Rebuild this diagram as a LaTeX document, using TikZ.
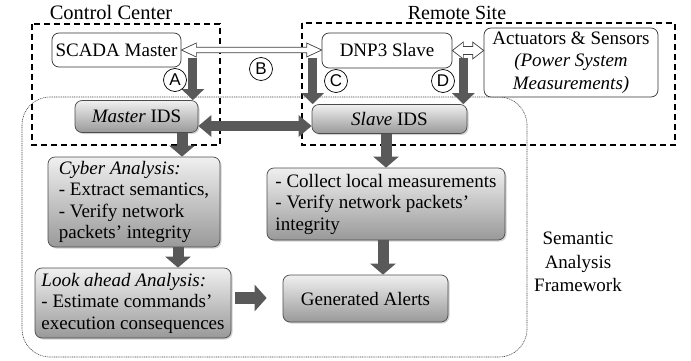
\documentclass[tikz,border=0pt]{standalone}
\usepackage{fontspec}
\setmainfont{Liberation Serif}
\newfontfamily\circfont{Liberation Sans}
\usetikzlibrary{arrows.meta,shadows,calc}
\newcommand\hollowarrow[5]{%
  \draw[hollow] let \p1=(#1), \p2=(#2) in
  (\x1,\y1) -- (\x1+#3,\y1+#4) -- (\x1+#3,\y1+#5) -- (\x2-#3,\y1+#5) -- (\x2-#3,\y1+#4) -- (\x2,\y1)
  -- (\x2-#3,\y1-#4) -- (\x2-#3,\y1-#5) -- (\x1+#3,\y1-#5) -- (\x1+#3,\y1-#4) -- cycle;}
\begin{document}
\begin{tikzpicture}[x=1pt,y=-1pt,
  font=\rmfamily\fontsize{19}{21.5}\selectfont,
  wbox/.style={draw=black!80, rounded corners=7pt, fill=white, line width=0.7pt, inner sep=2pt},
  gbox/.style={draw=black!70, rounded corners=7pt, top color=black!6, bottom color=black!40, line width=0.7pt, inner sep=2pt,
    drop shadow={shadow xshift=1.5pt,shadow yshift=-1.5pt,opacity=0.35}},
  region/.style={draw=black, line width=1.4pt, dash pattern=on 6pt off 4pt},
  frame/.style={draw=black!75, line width=0.6pt, dash pattern=on 1pt off 0.8pt, rounded corners=28pt},
  tarrow/.style={draw=black!65, line width=9pt, -{Triangle[length=11pt,width=22pt]}},
  hollow/.style={draw=black!75, fill=white, line width=0.7pt, line join=miter},
  circ/.style={circle, draw=black, fill=white, line width=0.7pt, minimum size=23pt, inner sep=0pt,
    font=\circfont\fontsize{17}{17}\selectfont},
  lbl/.style={inner sep=0pt}
]
\useasboundingbox (0,0) rectangle (691,361);

% framework and regions
\draw[frame] (22,97) rectangle (527,357);
\draw[region] (32,24) rectangle (220,145);
\draw[region] (302,23) rectangle (675,145);

\node[lbl, font=\rmfamily\fontsize{20.5}{24}\selectfont] (cc) at (111,12) {Control Center};
\node[lbl, font=\rmfamily\fontsize{20}{24}\selectfont] (rs) at (457,13) {Remote Site};

% nodes
\node[wbox, minimum width=129pt, minimum height=34pt] (scada) at (116.5,50) {SCADA Master};
\node[wbox, minimum width=130pt, minimum height=35pt] (dnp) at (387,50.5) {DNP3 Slave};
\node[wbox, minimum width=174pt, minimum height=69pt, align=center,
  font=\rmfamily\fontsize{19}{22.5}\selectfont] (act) at (571,62.5)
  {Actuators \& Sensors\\\textit{(Power System}\\\textit{Measurements)}};

\node[gbox, minimum width=123pt, minimum height=32pt] (mids) at (136.5,116.5) {\textit{Master} IDS};
\node[gbox, minimum width=155pt, minimum height=29pt] (sids) at (389.5,119) {\textit{Slave} IDS};
\node[gbox, minimum width=172pt, minimum height=90pt, align=left] (cyber) at (134,202)
  {\textit{Cyber Analysis:}\\- Extract semantics,\\- Verify network\\packets' integrity};
\node[gbox, minimum width=238pt, minimum height=72pt, align=left] (collect) at (386,204)
  {- Collect local measurements\\- Verify network packets'\\integrity};
\node[gbox, minimum width=196pt, minimum height=70pt, align=left] (look) at (133,303)
  {\textit{Look ahead Analysis:}\\- Estimate commands'\\execution consequences};
\node[gbox, minimum width=165pt, minimum height=47pt] (alerts) at (365.5,298.5) {Generated Alerts};

\node[lbl, align=center, font=\rmfamily\fontsize{19}{23.5}\selectfont] (saf) at (578,262) {Semantic\\Analysis\\Framework};

% hollow arrows
\hollowarrow{scada.east}{dnp.west}{15pt}{7pt}{2.8pt}
\hollowarrow{dnp.east}{act.west |- dnp.east}{11pt}{8.5pt}{4pt}

% thick arrows
\coordinate (a1) at ($(scada.east)+(11.5,8)$);
\draw[tarrow] (a1) -- (a1 |- mids.north);
\coordinate (c1) at ($(dnp.west)+(-9,7.5)$);
\draw[tarrow] (c1) -- (c1 |- sids.north);
\coordinate (d1) at ($(dnp.east)+(11,7.5)$);
\draw[tarrow] (d1) -- (d1 |- sids.north);

\coordinate (m1) at ($(mids.east)+(0,9.5)$);
\draw[tarrow, line width=10pt, {Triangle[length=13pt,width=21pt]}-{Triangle[length=13pt,width=21pt]}]
  (m1) -- (m1 -| sids.west);

\coordinate (m2) at ($(mids.south)+(45.5,0)$);
\draw[tarrow, line width=11pt, -{Triangle[length=11pt,width=25pt]}] (m2) -- (m2 |- cyber.north);
\coordinate (s2) at ($(sids.south)+(-3.5,0)$);
\draw[tarrow, line width=11pt, -{Triangle[length=11pt,width=25pt]}] (s2) -- (s2 |- collect.north);
\coordinate (cy) at ($(cyber.south)+(44,0)$);
\draw[tarrow, line width=11pt, -{Triangle[length=11pt,width=25pt]}] (cy) -- (cy |- look.north);
\coordinate (co) at ($(collect.south)+(-3,0)$);
\draw[tarrow, line width=11pt, -{Triangle[length=11pt,width=25pt]}] (co) -- (co |- alerts.north);
\coordinate (l1) at ($(look.east)+(4,-5)$);
\coordinate (l2) at ($(alerts.west |- l1)+(-16,0)$);
\draw[tarrow, line width=12pt, -{Triangle[length=12pt,width=26pt]}] (l1) -- (l2);

% circles
\node[circ] (A) at (175,80) {A};
\node[circ] (B) at (261,69) {B};
\node[circ] (C) at (336,81) {C};
\node[circ] (D) at (443,81) {D};
\end{tikzpicture}
\end{document}
